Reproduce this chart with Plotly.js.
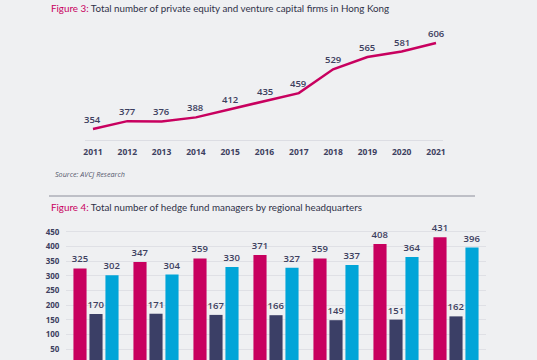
<!DOCTYPE html>
<html>
<head>
<meta charset="utf-8">
<script src="https://cdn.plot.ly/plotly-3.0.1.min.js"></script>
<style>
html,body{margin:0;padding:0;background:#eff0f2;overflow:hidden;}
#chart{width:537px;height:360px;}
</style>
</head>
<body>
<div id="chart"></div>
<script>
// Figure 3 data
const years = [2011, 2012, 2013, 2014, 2015, 2016, 2017, 2018, 2019, 2020, 2021];
const peVcFirms = [354, 377, 376, 388, 412, 435, 459, 529, 565, 581, 606];

// Figure 4 data
const hfCategories = ['2015', '2016', '2017', '2018', '2019', '2020', '2021'];
const hfSeriesA = [325, 347, 359, 371, 359, 408, 431];
const hfSeriesB = [170, 171, 167, 166, 149, 151, 162];
const hfSeriesC = [302, 304, 330, 327, 337, 364, 396];
const hfSeriesNames = ['Series A', 'Series B', 'Series C'];
const hfTicks = [50, 100, 150, 200, 250, 300, 350, 400, 450];

const MAGENTA = '#c8005f';
const NAVY = '#3b3f66';
const CYAN = '#00a5d8';
const TEXT = '#3d4060';
const FONT = 'Open Sans, Noto Sans, sans-serif';
const TFONT = 'Lato, Open Sans, sans-serif';

const traces = [
  {
    type: 'scatter', mode: 'lines',
    x: years, y: peVcFirms,
    line: {color: MAGENTA, width: 2.5},
    xaxis: 'x', yaxis: 'y', hoverinfo: 'x+y'
  }
];
const barColors = [MAGENTA, NAVY, CYAN];
[hfSeriesA, hfSeriesB, hfSeriesC].forEach((vals, i) => {
  traces.push({
    type: 'bar', name: hfSeriesNames[i],
    x: hfCategories, y: vals,
    marker: {color: barColors[i]},
    text: vals.map(String), textposition: 'outside', constraintext: 'none',
    textfont: {family: FONT, size: 9.5, color: TEXT, weight: 600},
    cliponaxis: false,
    xaxis: 'x2', yaxis: 'y2'
  });
});

const pointLabels = years.map((yr, i) => ({
  xref: 'x', yref: 'y', x: yr, y: peVcFirms[i],
  text: String(peVcFirms[i]), showarrow: false,
  xanchor: 'center', yanchor: 'middle', yshift: 9.5,
  font: {family: FONT, size: 9.5, color: TEXT, weight: 600}
}));

const layout = {
  width: 537, height: 360,
  margin: {l: 0, r: 0, t: 0, b: 0},
  paper_bgcolor: '#eff0f2', plot_bgcolor: 'rgba(0,0,0,0)',
  showlegend: false,
  font: {family: FONT, color: TEXT},
  barmode: 'group', bargap: 0.2, bargroupgap: 0.18,
  xaxis: {
    domain: [85/537, 443/537], range: [2010.767, 2021.204],
    tickmode: 'array', tickvals: years, ticktext: years.map(String),
    showgrid: false, zeroline: false,
    showline: true, linecolor: '#dcdde3', linewidth: 1,
    ticks: 'outside', ticklen: 4, tickcolor: 'rgba(0,0,0,0)',
    tickfont: {family: FONT, size: 8.5, color: TEXT, weight: 700},
    anchor: 'y'
  },
  yaxis: {
    domain: [1 - 140/360, 1 - 30/360], range: [321.7, 644.1],
    visible: false, showgrid: false, zeroline: false, anchor: 'x'
  },
  xaxis2: {
    domain: [66/537, 486/537], range: [-0.5, 6.5], type: 'category',
    showgrid: false, zeroline: false, showticklabels: false, showline: false,
    anchor: 'y2'
  },
  yaxis2: {
    domain: [0, 1 - 222/360], range: [13.6, 483],
    tickmode: 'array', tickvals: hfTicks, ticktext: hfTicks.map(String),
    showgrid: true, gridcolor: '#dfe0e5', gridwidth: 1, zeroline: false,
    tickfont: {family: FONT, size: 8, color: TEXT, weight: 700},
    ticks: 'outside', ticklen: 4, tickcolor: 'rgba(0,0,0,0)',
    anchor: 'x2'
  },
  shapes: [
    {type: 'line', xref: 'paper', yref: 'paper', x0: 49/537, x1: 475/537,
     y0: 1 - 196/360, y1: 1 - 196/360, line: {color: '#8c8e9b', width: 1}}
  ],
  annotations: pointLabels.concat([
    {xref: 'paper', yref: 'paper', x: 49/537, y: 1 - 7.5/360, xanchor: 'left', yanchor: 'middle',
     showarrow: false, align: 'left',
     text: '<span style="color:' + MAGENTA + '">Figure 3:</span> Total number of private equity and venture capital firms in Hong Kong',
     font: {family: TFONT, size: 9.8, color: '#2f3249'}},
    {xref: 'paper', yref: 'paper', x: 53/537, y: 1 - 174/360, xanchor: 'left', yanchor: 'middle',
     showarrow: false, text: '<i>Source: AVCJ Research</i>',
     font: {family: FONT, size: 7.2, color: '#55586e'}},
    {xref: 'paper', yref: 'paper', x: 49/537, y: 1 - 207/360, xanchor: 'left', yanchor: 'middle',
     showarrow: false, align: 'left',
     text: '<span style="color:' + MAGENTA + '">Figure 4:</span> Total number of hedge fund managers by regional headquarters',
     font: {family: TFONT, size: 9.8, color: '#2f3249'}}
  ])
};

Plotly.newPlot('chart', traces, layout, {displayModeBar: false, staticPlot: true});
</script>
</body>
</html>
